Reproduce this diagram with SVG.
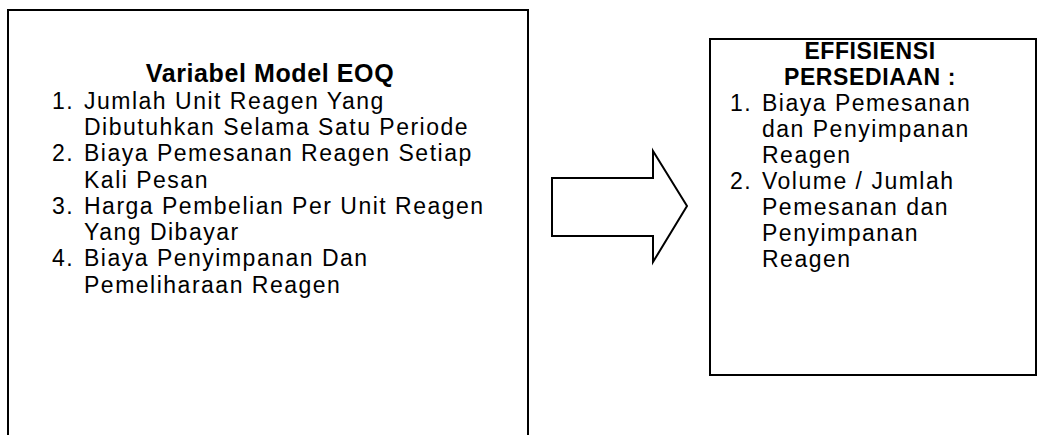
<svg xmlns="http://www.w3.org/2000/svg" width="1039" height="435" viewBox="0 0 1039 435">
<style>
.box{fill:#fff;stroke:#000;stroke-width:2}
.t{font-family:"Liberation Sans",Arial,sans-serif;font-size:23px;letter-spacing:1.5px;fill:#000}
.b{font-weight:bold;letter-spacing:0.6px}
.title{font-size:25px}
.h{font-size:23px}
</style>
<rect width="1039" height="435" fill="#fff"/>
<g id="variabel-model-eoq">
<rect class="box" x="8" y="10" width="520" height="440"/>
<text class="t b title" x="270" y="82" text-anchor="middle">Variabel Model EOQ</text>
<text class="t"><tspan x="52" y="108.6">1.</tspan><tspan x="84" y="108.6">Jumlah Unit Reagen Yang</tspan><tspan x="84" y="134.9">Dibutuhkan Selama Satu Periode</tspan><tspan x="52" y="161.2">2.</tspan><tspan x="84" y="161.2">Biaya Pemesanan Reagen Setiap</tspan><tspan x="84" y="187.5">Kali Pesan</tspan><tspan x="52" y="213.8">3.</tspan><tspan x="84" y="213.8">Harga Pembelian Per Unit Reagen</tspan><tspan x="84" y="240.1">Yang Dibayar</tspan><tspan x="52" y="266.4">4.</tspan><tspan x="84" y="266.4">Biaya Penyimpanan Dan</tspan><tspan x="84" y="292.7">Pemeliharaan Reagen</tspan></text>
</g>
<g id="connectors">
<polygon points="552,178 653,178 653,151 687,206 653,262 653,236 552,236" fill="#fff" stroke="#000" stroke-width="2"/>
</g>
<g id="effisiensi-persediaan">
<rect class="box" x="710" y="39" width="326" height="336"/>
<text class="t b h" text-anchor="middle"><tspan x="870" y="59">EFFISIENSI</tspan><tspan x="870" y="85">PERSEDIAAN :</tspan></text>
<text class="t"><tspan x="730" y="111">1.</tspan><tspan x="762" y="111">Biaya Pemesanan</tspan><tspan x="762" y="137">dan Penyimpanan</tspan><tspan x="762" y="163">Reagen</tspan><tspan x="730" y="189">2.</tspan><tspan x="762" y="189">Volume / Jumlah</tspan><tspan x="762" y="215">Pemesanan dan</tspan><tspan x="762" y="241">Penyimpanan</tspan><tspan x="762" y="267">Reagen</tspan></text>
</g>
</svg>
